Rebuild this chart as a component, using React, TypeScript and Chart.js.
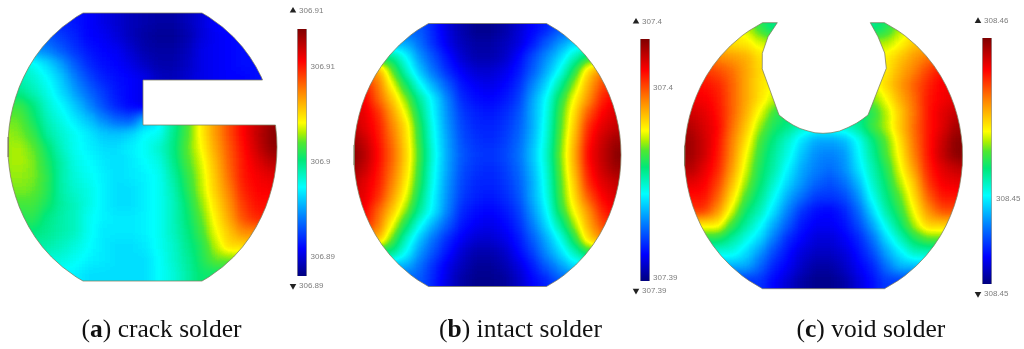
import React, { useEffect, useRef } from "react";
import { Chart, registerables } from "chart.js";

Chart.register(...registerables);

const xA = [5, 19, 33, 47, 61, 75, 89, 103, 117, 131, 145, 159, 173, 187, 201, 215, 229, 243, 257, 271, 285];
const yA = [8, 22, 36, 50, 64, 78, 92, 106, 120, 134, 148, 162, 176, 190, 204, 218, 232, 246, 260, 274, 288];
const levelsA = [
  [14,14,14,14,14,13,11,9,7,5,4,3,3,5,8,11,12,12,12,12,12],
  [14,14,14,14,14,13,11,9,7,5,4,3,3,5,8,11,12,12,12,12,12],
  [22,22,22,20,17,14,11,10,8,5,3,2,2,4,8,10,11,12,12,12,12],
  [30,30,26,24,20,16,13,11,10,7,4,3,3,5,9,10,11,12,12,12,12],
  [42,42,37,33,27,20,15,12,11,9,6,4,4,6,9,10,11,12,12,12,12],
  [44,42,40,36,31,24,18,14,12,11,9,6,5,7,9,10,11,11,12,12,12],
  [46,46,42,38,33,27,21,17,13,11,9,6,5,7,9,10,11,11,12,12,12],
  [52,52,47,40,36,31,25,19,14,11,9,6,5,7,9,10,11,11,12,12,12],
  [55,55,49,42,38,34,30,25,21,20,30,34,44,52,64,72,80,87,92,97,97],
  [57,56,52,44,40,37,34,31,30,32,36,37,45,53,63,72,80,87,93,99,99],
  [57,58,55,48,41,37,35,33,33,35,37,40,46,54,62,71,79,86,92,98,98],
  [57,58,56,50,43,38,36,34,33,34,36,38,45,53,60,69,78,85,90,94,94],
  [57,57,56,51,43,39,37,35,33,34,35,37,43,51,59,68,77,85,88,90,90],
  [55,56,55,51,43,40,38,35,33,33,35,37,42,50,58,67,75,84,87,88,88],
  [53,53,53,49,44,41,38,35,33,33,35,37,41,48,56,65,73,82,86,86,86],
  [50,50,51,46,43,41,37,35,34,34,35,37,41,47,54,63,71,80,84,84,84],
  [47,47,47,45,43,41,37,34,34,34,35,37,41,46,52,61,68,74,74,74,74],
  [43,43,43,43,41,39,36,34,33,33,34,37,40,45,50,58,66,66,66,66,66],
  [39,39,39,39,39,37,35,34,33,33,33,36,40,44,49,55,55,55,55,55,55],
  [35,35,35,35,35,35,33,33,33,33,33,36,39,43,48,48,48,48,48,48,48],
  [35,35,35,35,35,35,33,33,33,33,33,36,39,43,48,48,48,48,48,48,48],
];

const xB = [350, 364, 378, 392, 406, 420, 434, 448, 462, 476, 490, 504, 518, 532, 546, 560, 574, 588, 602, 616, 630];
const yB = [15, 29, 43, 57, 71, 85, 99, 113, 127, 141, 155, 169, 183, 197, 211, 225, 239, 253, 267, 281, 295];
const levelsB = [
  [20,20,20,20,20,20,14,8,4,1,1,3,7,11,14,20,20,20,20,20,20],
  [20,20,20,20,20,20,14,8,4,1,1,3,7,11,14,20,20,20,20,20,20],
  [28,28,28,28,28,22,15,9,5,3,3,5,8,13,20,26,32,32,32,32,32],
  [46,46,46,46,36,26,19,12,7,4,4,6,11,18,25,32,41,50,50,50,50],
  [72,72,72,55,41,30,22,15,10,7,7,9,13,20,28,37,50,66,75,75,75],
  [85,85,76,62,49,37,28,20,13,10,9,11,15,24,32,44,57,70,80,85,85],
  [88,88,78,68,56,44,34,24,15,12,11,13,17,27,36,50,62,73,84,88,88],
  [90,90,83,72,61,47,35,25,17,14,13,15,19,28,37,52,65,79,87,91,91],
  [95,90,85,75,65,50,36,26,18,15,14,16,20,28,38,53,67,83,90,93,93],
  [98,93,86,77,66,51,37,27,19,16,15,17,21,29,39,54,69,85,92,97,97],
  [100,95,87,78,67,52,38,27,20,17,16,18,22,30,40,55,70,87,93,99,100],
  [98,93,86,77,66,51,37,27,19,16,15,17,21,29,39,54,69,85,92,97,97],
  [95,90,85,75,64,50,36,26,18,15,14,16,20,28,38,53,67,83,90,93,93],
  [90,90,83,72,61,47,35,25,17,14,13,15,19,28,37,52,65,79,87,91,91],
  [88,88,78,68,56,44,34,24,15,12,11,13,17,26,35,50,62,73,84,88,88],
  [85,85,76,62,49,37,28,20,13,10,9,11,15,23,32,44,57,70,80,85,85],
  [70,70,70,55,41,30,22,15,10,7,7,9,13,20,28,37,50,66,74,74,74],
  [46,46,46,46,36,26,19,12,7,4,4,6,11,17,25,32,41,50,50,50,50],
  [28,28,28,28,28,22,15,9,5,2,2,4,8,13,20,26,32,32,32,32,32],
  [20,20,20,20,20,20,14,8,3,1,1,2,6,11,14,20,20,20,20,20,20],
  [20,20,20,20,20,20,14,8,3,1,1,2,6,11,14,20,20,20,20,20,20],
];

const xC = [676, 690, 704, 718, 732, 746, 760, 774, 788, 802, 816, 830, 844, 858, 872, 886, 900, 914, 928, 942, 956, 970];
const yC = [15, 29, 43, 57, 71, 85, 99, 113, 127, 141, 155, 169, 183, 197, 211, 225, 239, 253, 267, 281, 295];
const levelsC = [
  [60,60,60,60,60,55,48,46,46,46,46,45,44,44,44,48,54,60,60,60,60,60],
  [62,62,62,62,62,60,52,46,46,46,46,46,46,46,46,50,58,62,62,62,62,62],
  [66,66,66,66,65,64,60,58,58,58,58,58,58,58,58,58,62,68,68,68,68,68],
  [74,74,74,74,72,70,65,63,63,63,63,63,63,63,63,63,68,72,76,76,76,76],
  [82,82,82,80,77,71,66,62,62,62,62,62,62,62,62,64,70,75,81,86,86,86],
  [86,86,86,84,78,71,65,62,60,60,60,60,60,60,60,66,72,78,84,88,88,88],
  [88,88,88,85,78,71,65,59,55,55,55,55,55,55,55,62,70,77,85,88,90,90],
  [92,92,90,86,78,70,61,52,48,48,46,46,46,46,50,58,67,76,85,90,93,93],
  [95,95,91,87,77,68,57,49,46,40,38,38,40,44,52,58,68,77,85,90,96,96],
  [97,97,92,86,75,65,53,46,40,33,28,27,29,36,46,54,65,76,85,92,99,99],
  [97,97,92,85,74,62,51,44,38,30,25,24,26,35,44,53,63,75,85,93,99,99],
  [95,95,90,84,72,60,49,43,35,28,24,22,25,33,42,50,61,72,84,90,93,93],
  [90,90,88,81,69,57,48,40,32,26,21,19,22,29,40,48,58,68,82,88,89,89],
  [86,86,86,78,65,53,45,37,28,22,17,16,18,25,37,46,54,65,78,85,85,85],
  [82,82,82,73,60,48,42,33,24,16,12,11,14,21,32,43,51,62,73,80,80,80],
  [64,64,64,64,52,44,37,28,20,13,10,10,12,18,27,38,47,58,67,67,67,67],
  [50,50,50,50,44,38,32,23,15,11,8,8,10,14,22,32,41,49,54,54,54,54],
  [38,38,38,38,38,33,26,18,12,8,6,6,8,12,18,27,34,41,41,41,41,41],
  [28,28,28,28,28,28,21,14,10,6,3,3,6,10,14,22,29,29,29,29,29,29],
  [16,16,16,16,16,16,16,11,7,3,1,1,3,8,12,17,17,17,17,17,17,17],
  [16,16,16,16,16,16,16,11,7,3,1,1,3,8,12,17,17,17,17,17,17,17],
];

// Outlines of the three solder layers.
const outlineA = [
  [83,13],[76.2,17],[62.5,27],[51.5,37],[42.5,47],[35.1,57],[28.9,67],[23.7,77],[19.3,87],[15.8,97],[12.9,107],[10.7,117],[9.2,127],[8.3,137],[8,147],
  [8.3,157],[9.2,167],[10.7,177],[12.9,187],[15.8,197],[19.3,207],[23.7,217],[28.9,227],[35.1,237],[42.5,247],[51.5,257],[62.5,267],[76.2,277],[83,281],
  [202,281],[208.8,277],[222.5,267],[233.5,257],[242.5,247],[249.9,237],[256.1,227],[261.3,217],[265.7,207],[269.2,197],[272.1,187],[274.3,177],[275.8,167],[276.7,157],[277,147],[276.7,137],[275.5,125],
  [143,125],[143,80],[262.5,80],[261.3,77],[256.1,67],[249.9,57],[242.5,47],[233.5,37],[222.5,27],[208.8,17],[202,13],[83,13],
];
const outlineB = [
  [428.5,23.5],[417.7,30],[410.8,35],[399.3,45],[389.9,55],[382.1,65],[375.6,75],[370.2,85],[365.7,95],[362,105],[359.1,115],[356.8,125],[355.2,135],[354.3,145],[354,155],
  [354.3,165],[355.2,175],[356.8,185],[359.1,195],[362,205],[365.7,215],[370.2,225],[375.6,235],[382.1,245],[389.9,255],[399.3,265],[410.8,275],[417.7,280],[428.5,286.5],
  [546.5,286.5],[557.3,280],[564.2,275],[575.7,265],[585.1,255],[592.9,245],[599.4,235],[604.8,225],[609.3,215],[613,205],[615.9,195],[618.2,185],[619.8,175],[620.7,165],[621,155],
  [620.7,145],[619.8,135],[618.2,125],[615.9,115],[613,105],[609.3,95],[604.8,85],[599.4,75],[592.9,65],[585.1,55],[575.7,45],[564.2,35],[557.3,30],[546.5,23.5],[428.5,23.5],
];
const outlineC = [
  [762.5,22.7],[749.1,30.7],[742.1,35.7],[730.5,45.7],[721,55.7],[713.1,65.7],[706.5,75.7],[701,85.7],[696.5,95.7],[692.7,105.7],[689.7,115.7],[687.4,125.7],[685.8,135.7],[684.8,145.7],[684.5,155.7],
  [684.8,165.7],[685.8,175.7],[687.4,185.7],[689.7,195.7],[692.7,205.7],[696.5,215.7],[701,225.7],[706.5,235.7],[713.1,245.7],[721,255.7],[730.5,265.7],[742.1,275.7],[749.1,280.7],[762.5,288.7],
  [884.5,288.7],[897.9,280.7],[904.9,275.7],[916.5,265.7],[926,255.7],[933.9,245.7],[940.5,235.7],[946,225.7],[950.5,215.7],[954.3,205.7],[957.3,195.7],[959.6,185.7],[961.2,175.7],[962.2,165.7],[962.5,155.7],
  [962.2,145.7],[961.2,135.7],[959.6,125.7],[957.3,115.7],[954.3,105.7],[950.5,95.7],[946,85.7],[940.5,75.7],[933.9,65.7],[926,55.7],[916.5,45.7],[904.9,35.7],[897.9,30.7],[884.5,22.7],
  [870.3,22.7],[878,36.7],[884.7,53],[886.3,68.3],[868,115],[862,119.5],[856.3,123.3],[848,127.5],[839.7,131],[831,132.8],[823,133.3],[815,132.8],[808,131],[800,128.5],[793,125],[786,120.5],[779,115],
  [762,68.3],[762.3,53.3],[768,36.7],[777.3,22.7],[762.5,22.7],
];
const outlines = [outlineA, outlineB, outlineC];

// Colour bars: the temperature range and tick values of each bar.
const barRanges = [
  { axis: "tempA", x: 302, low: 306.888, high: 306.914 },
  { axis: "tempB", x: 645, low: 307.38984, high: 307.40258 },
  { axis: "tempC", x: 987, low: 308.44707, high: 308.45555 },
];
const axisBounds = {
  tempA: { min: 306.88032, max: 306.91705 },
  tempB: { min: 307.38626, max: 307.40463 },
  tempC: { min: 308.44483, max: 308.45686 },
};
const tickValues = [
  { axis: "tempA", x: 310.5, values: ["306.91", "306.9", "306.89"] },
  { axis: "tempB", x: 653, values: ["307.4", "307.39"] },
  { axis: "tempC", x: 996, values: ["308.45"] },
];
const extremes = [
  { markX: 293, textX: 299, maxY: 10.7, minY: 286, maxText: "306.91", minText: "306.89" },
  { markX: 636, textX: 642, maxY: 21.7, minY: 290.7, maxText: "307.4", minText: "307.39" },
  { markX: 978, textX: 984, maxY: 21, minY: 294, maxText: "308.46", minText: "308.45" },
];
const captions = [
  { letter: "a", rest: " crack solder", left: 81.5 },
  { letter: "b", rest: " intact solder", left: 439 },
  { letter: "c", rest: " void solder", left: 796.5 },
];

const colorStops: [number, number[]][] = [
  [0, [0, 0, 127]],
  [11, [0, 0, 255]],
  [24, [0, 128, 255]],
  [36, [0, 255, 255]],
  [47, [0, 232, 120]],
  [54, [80, 232, 48]],
  [58, [176, 240, 0]],
  [62, [255, 255, 0]],
  [75, [255, 128, 0]],
  [87, [255, 0, 0]],
  [100, [127, 0, 0]],
];

function levelColor(level: number): number[] {
  for (let i = 1; i < colorStops.length; i++) {
    const [l1, c1] = colorStops[i];
    if (level <= l1) {
      const [l0, c0] = colorStops[i - 1];
      const t = (level - l0) / (l1 - l0);
      return c0.map((c, k) => Math.round(c + (c1[k] - c) * t));
    }
  }
  return [127, 0, 0];
}

function cells(xs: number[], ys: number[], rows: number[][]) {
  return rows.flatMap((row, j) => row.map((level, i) => ({ x: xs[i], y: ys[j], level })));
}

// Cells carry their level in the red channel; softenField turns the smoothed levels into colours.
function fieldDataset(label: string, xs: number[], ys: number[], rows: number[][]) {
  return {
    label,
    order: 10,
    data: cells(xs, ys, rows),
    pointStyle: "rect",
    pointRadius: 10,
    pointBorderWidth: 0,
    pointBackgroundColor: (ctx: any) => {
      const v = Math.round((ctx.raw ? ctx.raw.level : 0) * 2.55);
      return `rgb(${v},${v},${v})`;
    },
    showLine: false,
  };
}

const softenField = {
  id: "softenField",
  afterDatasetDraw(chart: any, args: any) {
    if (args.index !== 0) return;
    const { ctx, canvas, scales } = chart;
    const copy = document.createElement("canvas");
    copy.width = canvas.width;
    copy.height = canvas.height;
    const cc = copy.getContext("2d", { willReadFrequently: true })!;
    cc.filter = "blur(5.5px)";
    cc.drawImage(canvas, 0, 0);
    cc.filter = "none";
    const img = cc.getImageData(0, 0, copy.width, copy.height);
    const d = img.data;
    const lut = Array.from({ length: 256 }, (_, i) => levelColor(i / 2.55));
    for (let i = 0; i < d.length; i += 4) {
      const c = lut[d[i]];
      d[i] = c[0];
      d[i + 1] = c[1];
      d[i + 2] = c[2];
      d[i + 3] = 255;
    }
    cc.putImageData(img, 0, 0);
    ctx.save();
    ctx.clearRect(0, 0, canvas.width, canvas.height);
    ctx.beginPath();
    outlines.forEach((pts) => {
      pts.forEach(([x, y], i) => {
        const px = scales.x.getPixelForValue(x);
        const py = scales.y.getPixelForValue(y);
        if (i === 0) ctx.moveTo(px, py);
        else ctx.lineTo(px, py);
      });
      ctx.closePath();
    });
    ctx.clip();
    ctx.drawImage(copy, 0, 0);
    ctx.restore();
  },
};

const barTexts = {
  id: "barTexts",
  afterDatasetsDraw(chart: any) {
    const { ctx, scales } = chart;
    ctx.save();
    ctx.font = '8px "Liberation Sans", Arial, sans-serif';
    ctx.fillStyle = "#7d7d7d";
    ctx.textBaseline = "middle";
    ctx.textAlign = "left";
    tickValues.forEach((t) => {
      t.values.forEach((v) => {
        ctx.fillText(v, scales.x.getPixelForValue(t.x), scales[t.axis].getPixelForValue(Number(v)));
      });
    });
    extremes.forEach((e) => {
      ctx.fillText(e.maxText, scales.x.getPixelForValue(e.textX), scales.y.getPixelForValue(e.maxY));
      ctx.fillText(e.minText, scales.x.getPixelForValue(e.textX), scales.y.getPixelForValue(e.minY));
    });
    ctx.restore();
  },
};

function barGradient(ctx: any, bar: any) {
  const chart = ctx.chart;
  const scale = chart.scales[bar.axis];
  const y0 = scale ? scale.getPixelForValue(bar.low) : NaN;
  const y1 = scale ? scale.getPixelForValue(bar.high) : NaN;
  if (!Number.isFinite(y0) || !Number.isFinite(y1)) return "#888";
  const g = chart.ctx.createLinearGradient(0, y0, 0, y1);
  colorStops.forEach(([l, c]) => g.addColorStop(l / 100, `rgb(${c.join(",")})`));
  return g;
}

export default function App() {
  const ref = useRef<HTMLCanvasElement>(null);
  useEffect(() => {
    const datasets: any[] = [
      fieldDataset("crack solder", xA, yA, levelsA),
      fieldDataset("intact solder", xB, yB, levelsB),
      fieldDataset("void solder", xC, yC, levelsC),
      ...outlines.map((pts, i) => ({
        label: `outline ${i}`,
        order: 2,
        data: pts.map(([x, y]) => ({ x, y })),
        showLine: true,
        pointRadius: 0,
        borderWidth: 1,
        borderColor: "rgba(125,125,95,0.75)",
        tension: 0,
      })),
      ...barRanges.flatMap((b) => {
        const pts = [{ x: b.x, y: b.low }, { x: b.x, y: b.high }];
        return [
          { label: `${b.axis} frame`, order: 3, yAxisID: b.axis, data: pts, showLine: true, pointRadius: 0, borderWidth: 10, borderColor: "#9a9a9a" },
          { label: `${b.axis} bar`, order: 1, yAxisID: b.axis, data: pts, showLine: true, pointRadius: 0, borderWidth: 8.5, borderColor: (ctx: any) => barGradient(ctx, b) },
        ];
      }),
      {
        label: "maximum",
        order: 1,
        data: extremes.map((e) => ({ x: e.markX, y: e.maxY })),
        pointStyle: "triangle",
        pointRadius: 3.8,
        pointBorderWidth: 0,
        pointBackgroundColor: "#222",
      },
      {
        label: "minimum",
        order: 1,
        data: extremes.map((e) => ({ x: e.markX, y: e.minY })),
        pointStyle: "triangle",
        pointRotation: 180,
        pointRadius: 3.8,
        pointBorderWidth: 0,
        pointBackgroundColor: "#222",
      },
    ];
    const hidden = { display: false };
    const chart = new Chart(ref.current!, {
      type: "scatter",
      data: { datasets },
      options: {
        animation: false,
        responsive: false,
        events: [],
        layout: { padding: 0, autoPadding: false },
        plugins: { legend: hidden, tooltip: { enabled: false } },
        scales: {
          x: { type: "linear", min: 0, max: 1024, display: false },
          y: { type: "linear", min: 0, max: 349, reverse: true, display: false },
          tempA: { type: "linear", ...axisBounds.tempA, display: false },
          tempB: { type: "linear", ...axisBounds.tempB, display: false },
          tempC: { type: "linear", ...axisBounds.tempC, display: false },
        },
      },
      plugins: [softenField, barTexts],
    } as any);
    return () => chart.destroy();
  }, []);
  return (
    <div style={{ position: "fixed", left: 0, top: 0, width: 1024, height: 349, background: "#fff", overflow: "hidden" }}>
      <canvas ref={ref} width={1024} height={349} style={{ display: "block" }} />
      {captions.map((c) => (
        <div
          key={c.letter}
          style={{
            position: "absolute",
            left: c.left,
            top: 313.5,
            font: '25.5px/30px "Liberation Serif", serif',
            color: "#111",
            whiteSpace: "pre",
          }}
        >
          (<b>{c.letter}</b>){c.rest}
        </div>
      ))}
    </div>
  );
}
